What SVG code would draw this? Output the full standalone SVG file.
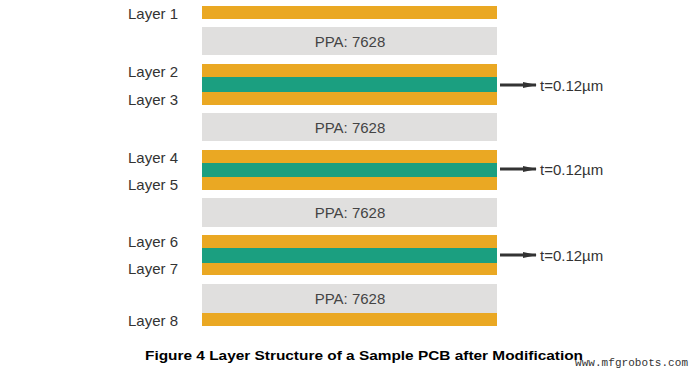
<svg xmlns="http://www.w3.org/2000/svg" width="700" height="372" viewBox="0 0 700 372">
<defs>
<style>
.cu{fill:#EAA823}
.core{fill:#1B9F80}
.pp{fill:#E0DFDE}
.lbl{font-family:"Liberation Sans",Arial,sans-serif;font-size:15px;fill:#333}
.ppt{font-family:"Liberation Sans",Arial,sans-serif;font-size:15px;fill:#444;text-anchor:middle}
.cap{font-family:"Liberation Sans",Arial,sans-serif;font-size:12px;font-weight:bold;fill:#000}
.wm{font-family:"Liberation Mono","DejaVu Sans Mono",monospace;font-size:11px;fill:#333}
.arr{stroke:#333;stroke-width:3;fill:none}
</style>
<marker id="ah" markerWidth="14" markerHeight="6" refX="13" refY="3" orient="auto" markerUnits="userSpaceOnUse" viewBox="0 0 14 6">
<path d="M0,0 L14,3 L0,6 Z" fill="#333"/>
</marker>
</defs>
<rect width="700" height="372" fill="#fff"/>

<g id="layer1"><rect class="cu" x="202" y="6" width="295" height="13"/><text class="lbl" x="128" y="19">Layer 1</text></g>
<g id="ppa1"><rect class="pp" x="202" y="27" width="295" height="28"/><text class="ppt" x="350" y="47">PPA: 7628</text></g>

<g id="core1">
<rect class="cu" x="202" y="64" width="295" height="13"/>
<rect class="core" x="202" y="77" width="295" height="15"/>
<rect class="cu" x="202" y="92" width="295" height="13"/>
<text class="lbl" x="128" y="77">Layer 2</text>
<text class="lbl" x="128" y="105">Layer 3</text>
<text class="lbl" x="540" y="91">t=0.12µm</text>
</g>
<g id="ppa2"><rect class="pp" x="202" y="113" width="295" height="28"/><text class="ppt" x="350" y="133">PPA: 7628</text></g>

<g id="core2">
<rect class="cu" x="202" y="150" width="295" height="13"/>
<rect class="core" x="202" y="163" width="295" height="14"/>
<rect class="cu" x="202" y="177" width="295" height="13"/>
<text class="lbl" x="128" y="163">Layer 4</text>
<text class="lbl" x="128" y="190">Layer 5</text>
<text class="lbl" x="540" y="175">t=0.12µm</text>
</g>
<g id="ppa3"><rect class="pp" x="202" y="198" width="295" height="29"/><text class="ppt" x="350" y="218">PPA: 7628</text></g>

<g id="core3">
<rect class="cu" x="202" y="235" width="295" height="13"/>
<rect class="core" x="202" y="248" width="295" height="15"/>
<rect class="cu" x="202" y="263" width="295" height="12"/>
<text class="lbl" x="128" y="247">Layer 6</text>
<text class="lbl" x="128" y="274">Layer 7</text>
<text class="lbl" x="540" y="261">t=0.12µm</text>
</g>
<g id="ppa4"><rect class="pp" x="202" y="284" width="295" height="29"/><text class="ppt" x="350" y="304">PPA: 7628</text></g>
<g id="layer8"><rect class="cu" x="202" y="313" width="295" height="13"/><text class="lbl" x="128" y="326">Layer 8</text></g>

<g id="connectors">
<line class="arr" x1="500" y1="85" x2="536" y2="85" marker-end="url(#ah)"/>
<line class="arr" x1="500" y1="169" x2="536" y2="169" marker-end="url(#ah)"/>
<line class="arr" x1="500" y1="255" x2="536" y2="255" marker-end="url(#ah)"/>
</g>

<text class="cap" x="145" y="360" textLength="438" lengthAdjust="spacingAndGlyphs">Figure 4 Layer Structure of a Sample PCB after Modification</text>
<text class="wm" x="575" y="366" textLength="113">www.mfgrobots.com</text>
</svg>
